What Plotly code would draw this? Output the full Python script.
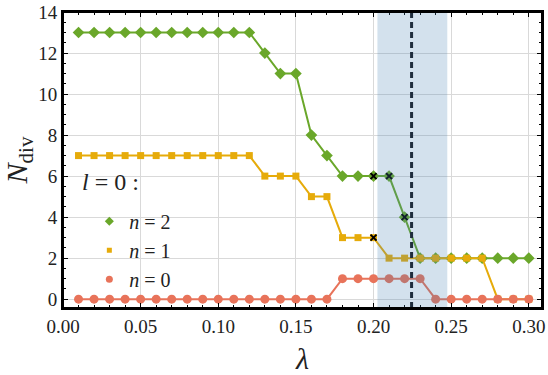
import plotly.graph_objects as go

lam = [round(0.01 * i, 2) for i in range(1, 31)]
n2 = [13]*12 + [12, 11, 11, 8, 7, 6, 6, 6, 6, 4] + [2]*8
n1 = [7]*12 + [6, 6, 6, 5, 5, 3, 3, 3] + [2]*7 + [0, 0, 0]
n0 = [0]*17 + [1, 1, 1, 1, 1, 1] + [0]*7
cross_x = [0.20, 0.21, 0.22, 0.20]
cross_y = [6, 6, 4, 3]
band = [0.2025, 0.2475]
crit = 0.2245

green = "#6aa72a"
yellow = "#e6ab0a"
red = "#e8735a"
font = "'Liberation Serif', 'Times New Roman', serif"

series = [("<i>n</i> = 2", n2, green, "diamond", 9),
          ("<i>n</i> = 1", n1, yellow, "square", 7),
          ("<i>n</i> = 0", n0, red, "circle", 9)]

fig = go.Figure()
for name, ys, col, sym, sz in series:
    fig.add_trace(go.Scatter(x=lam, y=ys, mode="lines+markers", name=name, showlegend=False,
                             line=dict(color=col, width=2),
                             marker=dict(symbol=sym, size=sz, color=col)))
for name, ys, col, sym, sz in series:
    fig.add_trace(go.Scatter(x=[None], y=[None], mode="markers", name=name,
                             marker=dict(symbol=sym, size=sz - 2, color=col)))
fig.add_trace(go.Scatter(x=cross_x, y=cross_y, mode="markers", showlegend=False,
                         marker=dict(symbol="x-thin", size=6, line=dict(color="black", width=2))))

fig.add_shape(type="rect", xref="x", yref="paper", x0=band[0], x1=band[1], y0=0, y1=1,
              fillcolor="rgba(70,130,180,0.24)", line=dict(width=0), layer="above")
fig.add_shape(type="line", xref="x", yref="paper", x0=crit, x1=crit, y0=0, y1=1,
              line=dict(color="#1f2d3d", width=3, dash="6px,4px"), layer="above")
fig.add_shape(type="rect", xref="paper", yref="paper", x0=0, x1=1, y0=0, y1=1,
              line=dict(color="black", width=2), fillcolor="rgba(0,0,0,0)", layer="above")

fig.add_annotation(text="<i>l</i> = 0 :", xref="paper", yref="paper", x=0.035, y=0.425,
                   xanchor="left", yanchor="middle", showarrow=False,
                   font=dict(family=font, size=24, color="#222"))

axis_common = dict(showline=True, linecolor="black", linewidth=2, mirror="allticks",
                   ticks="inside", ticklen=5, tickwidth=1, tickcolor="black",
                   showgrid=True, gridcolor="#d9d9d9", gridwidth=1, zeroline=False,
                   automargin=False,
                   tickfont=dict(family=font, size=19, color="#222"))

fig.update_xaxes(range=[0, 0.3085], tickvals=[0, 0.05, 0.1, 0.15, 0.2, 0.25, 0.3],
                 ticktext=["0.00", "0.05", "0.10", "0.15", "0.20", "0.25", "0.30"],
                 minor=dict(dtick=0.01, ticks="inside", ticklen=3, tickcolor="black", showgrid=False),
                 title=dict(text="<i>λ</i>", font=dict(family=font, size=30, color="#222"), standoff=16),
                 **axis_common)
fig.update_yaxes(range=[-0.43, 14], tickvals=list(range(0, 15, 2)),
                 minor=dict(dtick=0.5, ticks="inside", ticklen=3, tickcolor="black", showgrid=False),
                 title=dict(text="<i>N</i><sub>div</sub>", font=dict(family=font, size=30, color="#222"), standoff=2),
                 **axis_common)

fig.update_layout(
    width=548, height=375,
    margin=dict(l=63, r=6, t=12, b=67),
    plot_bgcolor="white", paper_bgcolor="white",
    font=dict(family=font),
    legend=dict(x=0.055, y=0.359, xanchor="left", yanchor="top", bgcolor="rgba(0,0,0,0)",
                font=dict(family=font, size=20, color="#222"), tracegroupgap=0,
                itemwidth=30),
)

fig.write_html("out.html", config={"displayModeBar": False},
               post_script="document.body.style.margin='0';document.body.style.overflow='hidden';")
